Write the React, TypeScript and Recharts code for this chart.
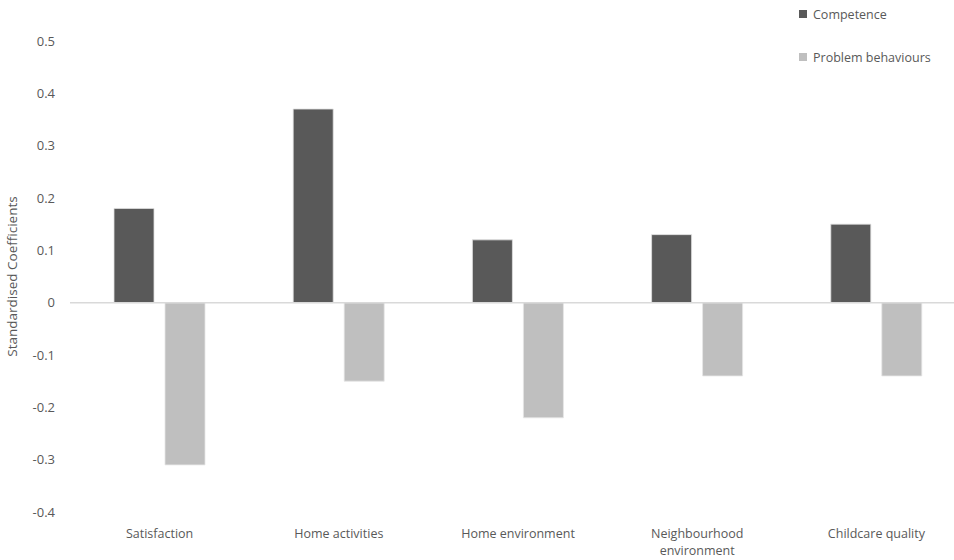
import React from 'react';
import {
  BarChart,
  Bar,
  XAxis,
  YAxis,
  ReferenceLine,
} from 'recharts';

const categories = [
  'Satisfaction',
  'Home activities',
  'Home environment',
  'Neighbourhood\nenvironment',
  'Childcare quality',
];
const competence = [0.18, 0.37, 0.12, 0.13, 0.15];
const problemBehaviours = [-0.31, -0.15, -0.22, -0.14, -0.14];
const yTicks = [-0.4, -0.3, -0.2, -0.1, 0, 0.1, 0.2, 0.3, 0.4, 0.5];

const data = categories.map((name, i) => ({
  name,
  competence: competence[i],
  problem: problemBehaviours[i],
}));

const FONT = '"Open Sans", "DejaVu Sans", sans-serif';
const TEXT = '#595959';

const legendItems = [
  { label: 'Competence', color: '#595959' },
  { label: 'Problem behaviours', color: '#bfbfbf' },
];

const CategoryTick = (props: any) => {
  const { x, y, payload } = props;
  const lines = String(payload.value).split('\n');
  return (
    <g transform={`translate(${x},${y})`}>
      {lines.map((line, i) => (
        <text
          key={i}
          x={0}
          y={18 + i * 17}
          textAnchor="middle"
          fill={TEXT}
          fontSize={12.5}
          fontFamily={FONT}
        >
          {line}
        </text>
      ))}
    </g>
  );
};

const LegendBox = () => (
  <div
    style={{
      position: 'absolute',
      top: 5,
      left: 799,
      fontFamily: FONT,
      fontSize: 12.5,
      color: TEXT,
    }}
  >
    {legendItems.map((item, i) => (
      <div
        key={item.label}
        style={{ display: 'flex', alignItems: 'center', height: 18, marginBottom: i === 0 ? 25 : 0 }}
      >
        <span
          style={{ width: 8, height: 8, background: item.color, marginRight: 6, display: 'inline-block' }}
        />
        {item.label}
      </div>
    ))}
  </div>
);

const App: React.FC = () => {
  return (
    <div
      style={{
        position: 'absolute',
        top: 0,
        left: 0,
        width: 954,
        height: 560,
        overflow: 'hidden',
        background: '#fff',
      }}
    >
      <BarChart
        width={966}
        height={560}
        data={data}
        margin={{ top: 41, right: 0, left: 0, bottom: 0 }}
        barCategoryGap={44}
        barGap={11}
      >
        <XAxis
          dataKey="name"
          axisLine={false}
          tickLine={false}
          tick={<CategoryTick />}
          interval={0}
          height={48}
        />
        <YAxis
          domain={[-0.4, 0.5]}
          ticks={yTicks}
          width={70}
          axisLine={false}
          tickLine={false}
          tickSize={0}
          tickMargin={15}
          tick={{ fill: TEXT, fontSize: 13, fontFamily: FONT }}
          tickFormatter={(v) => String(Math.round(v * 10) / 10)}
          label={{
            value: 'Standardised Coefficients',
            angle: -90,
            position: 'insideLeft',
            offset: 12,
            style: { textAnchor: 'middle', fill: TEXT, fontSize: 13.5, fontFamily: FONT },
          }}
        />
        <ReferenceLine y={0} stroke="#d9d9d9" strokeWidth={1.5} />
        <Bar
          dataKey="competence"
          name="Competence"
          fill="#595959"
          stroke="#e0e0e0"
          strokeWidth={0.8}
          barSize={40}
          isAnimationActive={false}
        />
        <Bar
          dataKey="problem"
          name="Problem behaviours"
          fill="#bfbfbf"
          stroke="#e6e6e6"
          strokeWidth={0.8}
          barSize={40}
          isAnimationActive={false}
        />
      </BarChart>
      <LegendBox />
    </div>
  );
};

export default App;
